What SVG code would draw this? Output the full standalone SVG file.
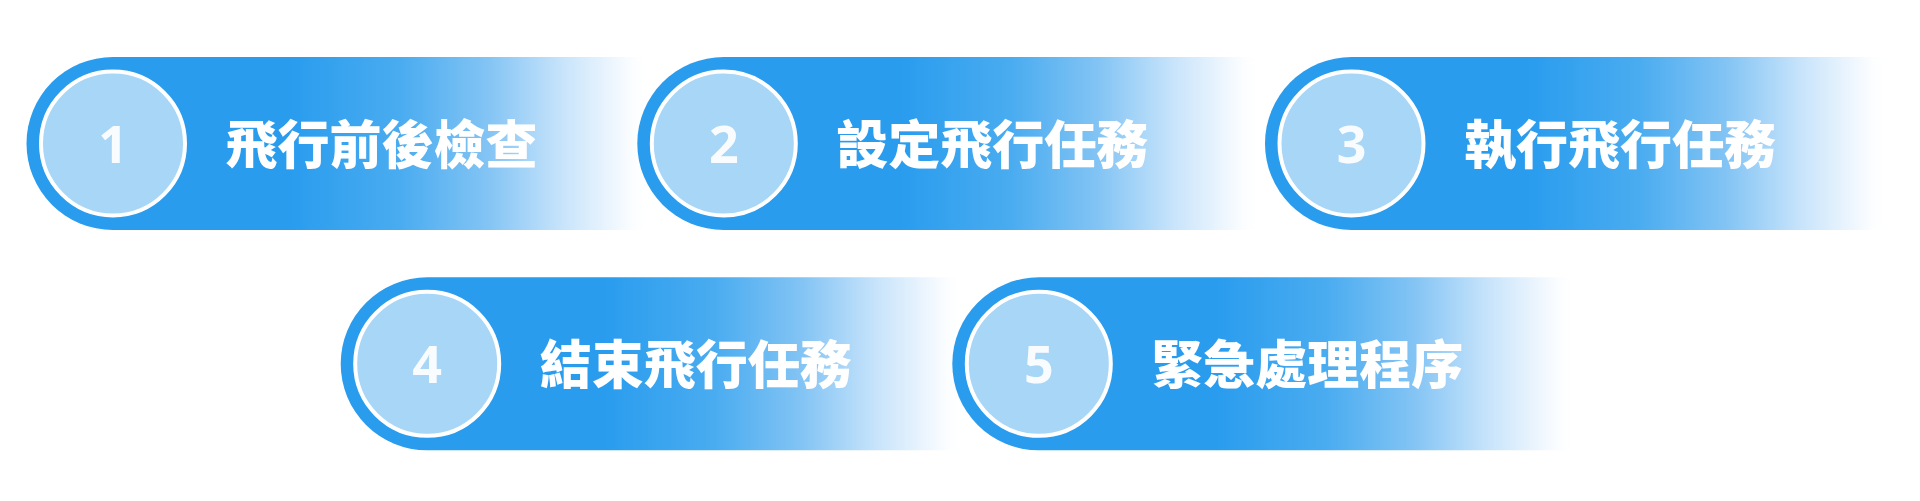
<svg xmlns="http://www.w3.org/2000/svg" width="1920" height="501" viewBox="0 0 1920 501">
<defs>
<linearGradient id="fade" x1="0" y1="0" x2="1" y2="0">
<stop offset="0" stop-color="#299CEE"/>
<stop offset="0.42" stop-color="#299CEE"/>
<stop offset="0.6" stop-color="#4AACF0"/>
<stop offset="0.74" stop-color="#83C4F4"/>
<stop offset="0.86" stop-color="#C8E4FB"/>
<stop offset="0.95" stop-color="#F2F8FE"/>
<stop offset="1" stop-color="#FFFFFF" stop-opacity="0"/>
</linearGradient>
<path id="pill" d="M86.5 0 H624 V173 H86.5 A86.5 86.5 0 0 1 86.5 0 Z"/>
</defs>
<style>
.bg{fill:url(#fade)}
.disc{fill:#A7D6F7;stroke:#FFFFFF;stroke-width:4}
.num{font-family:"Noto Sans","Open Sans",sans-serif;font-weight:700;font-size:52px;fill:#FFFFFF;fill-opacity:0.92;text-anchor:middle}
.lbl{font-family:"Noto Sans CJK TC","Noto Sans CJK SC",sans-serif;font-weight:900;font-size:52px;fill:#FFFFFF}
</style>
<rect width="1920" height="501" fill="#FFFFFF"/>
<g id="connectors"></g>
<g id="step1" transform="translate(26.5,57)">
<use href="#pill" class="bg"/>
<circle class="disc" cx="86.5" cy="86.5" r="72"/>
<text class="num" x="86.5" y="106">1</text>
<text class="lbl" x="199" y="107">飛行前後檢查</text>
</g>
<g id="step2" transform="translate(637.3,57)">
<use href="#pill" class="bg"/>
<circle class="disc" cx="86.5" cy="86.5" r="72"/>
<text class="num" x="86.5" y="106">2</text>
<text class="lbl" x="199" y="107">設定飛行任務</text>
</g>
<g id="step3" transform="translate(1265,57)">
<use href="#pill" class="bg"/>
<circle class="disc" cx="86.5" cy="86.5" r="72"/>
<text class="num" x="86.5" y="106">3</text>
<text class="lbl" x="199" y="107">執行飛行任務</text>
</g>
<g id="step4" transform="translate(340.7,277.3)">
<use href="#pill" class="bg"/>
<circle class="disc" cx="86.5" cy="86.5" r="72"/>
<text class="num" x="86.5" y="106">4</text>
<text class="lbl" x="199" y="107">結束飛行任務</text>
</g>
<g id="step5" transform="translate(952.3,277.3)">
<use href="#pill" class="bg"/>
<circle class="disc" cx="86.5" cy="86.5" r="72"/>
<text class="num" x="86.5" y="106">5</text>
<text class="lbl" x="199" y="107">緊急處理程序</text>
</g>
</svg>
